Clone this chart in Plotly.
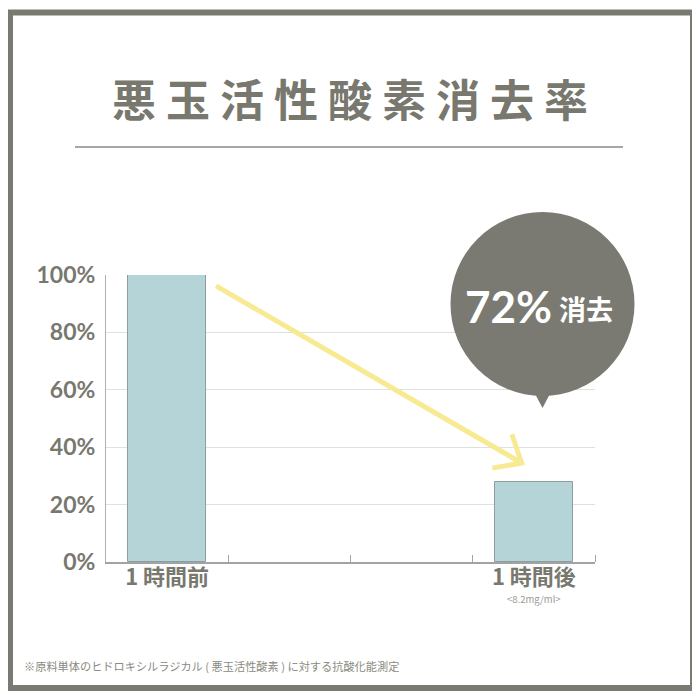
import plotly.graph_objects as go

# data
categories = ["1 時間前", "1 時間後"]
positions = [1, 4]
values = [1.00, 0.28]
y_ticks = [0, 0.2, 0.4, 0.6, 0.8, 1.0]
title_text = "悪 玉 活 性 酸 素 消 去 率"
bubble_value = "72%"
bubble_word = "消去"
unit_note = "<8.2mg/ml>"
footnote = "※原料単体のヒドロキシルラジカル ( 悪玉活性酸素 ) に対する抗酸化能測定"

GRAY = "#78786f"
FONT = "Noto Sans CJK JP"
W = 700.0
OFF = 8  # page body margin


def px(x):
    return (x - OFF) / W


def py(y):
    return 1 - (y - OFF) / W


bars = go.Bar(
    x=positions,
    y=values,
    width=0.64,
    marker=dict(color="#b4d4d8", line=dict(color="#8e9ea0", width=1)),
    hoverinfo="skip",
)

fig = go.Figure(data=[bars])

shapes = [
    # outer frame
    dict(type="rect", xref="paper", yref="paper",
         x0=px(10), x1=px(693), y0=py(688), y1=py(12.5),
         line=dict(color="#7a7a72", width=6), fillcolor="rgba(0,0,0,0)", layer="below"),
    # rule under title
    dict(type="line", xref="paper", yref="paper",
         x0=px(75), x1=px(623), y0=py(147), y1=py(147),
         line=dict(color="#8a8a84", width=1.5)),
    # yellow arrow
    dict(type="path", xref="x", yref="y",
         path="M 1.40,0.962 L 3.90,0.345 M 3.82,0.445 L 3.90,0.345 L 3.66,0.327",
         line=dict(color="#f8ea92", width=5)),
    # speech bubble
    dict(type="circle", xref="paper", yref="paper",
         x0=px(450.5), x1=px(634.5), y0=py(396), y1=py(212),
         fillcolor="#7a7a72", line=dict(width=0)),
    dict(type="path", xref="paper", yref="paper",
         path=f"M {px(533)},{py(390)} L {px(552)},{py(390)} L {px(542.5)},{py(408)} Z",
         fillcolor="#7a7a72", line=dict(width=0)),
]

annotations = [
    dict(text=title_text, x=px(350), y=py(98), xref="paper", yref="paper",
         showarrow=False, xanchor="center", yanchor="middle",
         font=dict(family=FONT, size=44, color=GRAY, weight="bold")),
    dict(text=bubble_value, x=px(554), y=py(306), xref="paper", yref="paper",
         showarrow=False, xanchor="right", yanchor="middle",
         font=dict(family="Lato", size=44, color="white", weight="bold")),
    dict(text=bubble_word, x=px(557), y=py(309), xref="paper", yref="paper",
         showarrow=False, xanchor="left", yanchor="middle",
         font=dict(family=FONT, size=27, color="white", weight="bold")),
    dict(text=unit_note.replace("<", "&lt;").replace(">", "&gt;"),
         x=positions[1], y=py(599), xref="x", yref="paper",
         showarrow=False, xanchor="center", yanchor="middle",
         font=dict(family=FONT, size=9.5, color="#9a9a94")),
    dict(text=footnote, x=px(22), y=py(666), xref="paper", yref="paper",
         showarrow=False, xanchor="left", yanchor="middle",
         font=dict(family=FONT, size=11.2, color="#8a8a82")),
]

fig.update_layout(
    width=700, height=700,
    margin=dict(l=0, r=0, t=0, b=0, pad=0),
    paper_bgcolor="white", plot_bgcolor="white",
    showlegend=False,
    shapes=shapes,
    annotations=annotations,
    bargap=0,
    xaxis=dict(
        domain=[px(106), px(595)],
        range=[0.5, 4.5],
        tickmode="array", tickvals=positions, ticktext=categories,
        ticks="", showgrid=False, zeroline=False,
        showline=True, linecolor="#a3a3a3", linewidth=1.5,
        tickfont=dict(family=FONT, size=22, color=GRAY, weight="bold"),
        ticklabelstandoff=-5,
        minor=dict(tickmode="array", tickvals=[1.5, 2.5, 3.5, 4.5],
                   ticks="inside", ticklen=7, tickcolor="#a3a3a3", tickwidth=1,
                   showgrid=False),
        automargin=False,
        fixedrange=True,
    ),
    yaxis=dict(
        domain=[py(562), py(275)],
        range=[0, 1],
        tickmode="array", tickvals=y_ticks, tickformat=".0%",
        showgrid=True, gridcolor="#e0e0e0", gridwidth=1,
        zeroline=False, showline=True, linecolor="#b0b0b0", linewidth=1,
        ticks="", ticklabelstandoff=5,
        tickfont=dict(family="Lato", size=23, color=GRAY, weight="bold"),
        automargin=False,
        fixedrange=True,
    ),
)

fig.write_html("out.html", config=dict(displayModeBar=False))
